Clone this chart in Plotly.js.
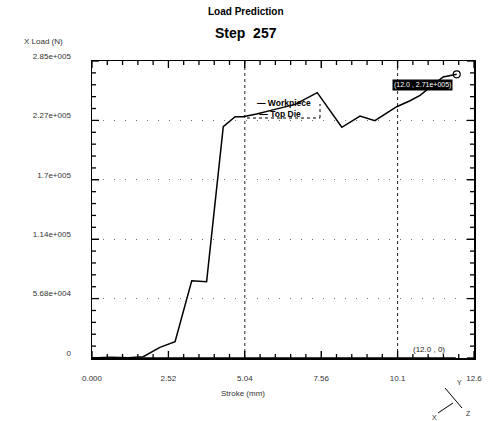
<!DOCTYPE html>
<html>
<head>
<meta charset="utf-8">
<script src="https://cdn.plot.ly/plotly-3.0.1.min.js"></script>
<style>html,body{margin:0;padding:0;background:#fff;}#chart{width:489px;height:421px;}</style>
</head>
<body>
<div id="chart"></div>
<script>
// Workpiece X load vs stroke
const stroke = [0, 0.6, 1.2, 1.69, 2.24, 2.74, 3.29, 3.78, 4.33, 4.61, 4.72, 4.98, 5.43, 6.0, 6.7, 7.43, 8.24, 8.84, 9.33, 10.05, 10.49, 10.82, 11.58, 12.03];
const load   = [0, 600, 300, 1200, 10200, 15600, 73900, 73000, 221200, 227600, 230700, 230700, 233300, 237500, 242500, 253700, 220600, 231400, 226900, 240300, 246000, 251200, 268700, 271300];
// Top die series (zero load)
const dieStroke = [0, 12.0];
const dieLoad   = [0, 0];

const xTickVals = [0, 2.52, 5.04, 7.56, 10.08, 12.6];
const xTickText = ["0.000", "2.52", "5.04", "7.56", "10.1", "12.6"];
const yTickVals = [0, 56800, 113600, 170400, 227200, 284000];
const yTickText = ["0", "5.68e+004", "1.14e+005", "1.7e+005", "2.27e+005", "2.85e+005"];
const xGridVals = [5.04, 10.08];

const endLabel = "(12.0 , 2.71e+005)";
const dieLabel = "(12.0 , 0)";

const last = stroke.length - 1;
const FONT = "Liberation Sans, Arial, sans-serif";
const MINOR_PER_MAJOR = 5;

const traces = [
  {x: dieStroke, y: dieLoad, mode: 'lines', line: {color: '#000', width: 1.5}, name: 'Top Die', showlegend: false, hoverinfo: 'skip'},
  {x: stroke, y: load, mode: 'lines', line: {color: '#000', width: 1.5}, name: 'Workpiece', showlegend: false},
  {x: [stroke[last]], y: [load[last]], mode: 'markers', marker: {symbol: 'circle-open', size: 7, color: '#000', line: {width: 1.2}}, showlegend: false}
];

const shapes = [
  {type: 'line', xref: 'paper', yref: 'paper', x0: (247-92)/382, x1: (320-92)/382, y0: (358-118)/297, y1: (358-118)/297, line: {color: '#000', width: 1, dash: 'dot'}},
  {type: 'line', xref: 'paper', yref: 'paper', x0: (320-92)/382, x1: (320-92)/382, y0: (358-118)/297, y1: (358-104)/297, line: {color: '#000', width: 1, dash: 'dot'}},
  {type: 'line', xref: 'paper', yref: 'paper', x0: (445-92)/382, y0: (358-388)/297, x1: (462-92)/382, y1: (358-408)/297, line: {color: '#000', width: 1}},
  {type: 'line', xref: 'paper', yref: 'paper', x0: (438-92)/382, y0: (358-413)/297, x1: (453-92)/382, y1: (358-403)/297, line: {color: '#000', width: 1}}
];
xGridVals.forEach(v => shapes.push({type: 'line', xref: 'x', yref: 'paper', x0: v, x1: v, y0: 0, y1: 1, layer: 'below', line: {color: '#222', width: 1, dash: 'dot'}}));

// inside tick marks on all four sides (major + minor), placed at the axis tick values
function tickSet(vals) {
  const out = [];
  for (let i = 0; i < vals.length; i++) {
    out.push({v: vals[i], major: true});
    if (i < vals.length - 1) {
      const step = (vals[i+1] - vals[i]) / MINOR_PER_MAJOR;
      for (let k = 1; k < MINOR_PER_MAJOR; k++) out.push({v: vals[i] + k * step, major: false});
    }
  }
  return out;
}
const XP = 1 / 382, YP = 1 / 297; // one pixel in paper units
tickSet(xTickVals).forEach(t => {
  const len = (t.major ? 7 : 4) * YP;
  shapes.push({type: 'line', xref: 'x', yref: 'paper', x0: t.v, x1: t.v, y0: 0, y1: len, line: {color: '#000', width: 1.3}});
  shapes.push({type: 'line', xref: 'x', yref: 'paper', x0: t.v, x1: t.v, y0: 1, y1: 1 - len, line: {color: '#000', width: 1.3}});
});
tickSet(yTickVals).forEach(t => {
  const len = (t.major ? 7 : 4) * XP;
  shapes.push({type: 'line', xref: 'paper', yref: 'y', y0: t.v, y1: t.v, x0: 0, x1: len, line: {color: '#000', width: 1.3}});
  shapes.push({type: 'line', xref: 'paper', yref: 'y', y0: t.v, y1: t.v, x0: 1, x1: 1 - len, line: {color: '#000', width: 1.3}});
});

const annotations = [
  {text: '<b>Load Prediction</b>', xref: 'paper', yref: 'paper', x: (246-92)/382, y: (358-12)/297, showarrow: false, font: {family: FONT, size: 10, color: '#000'}, xanchor: 'center', yanchor: 'middle'},
  {text: '<b>Step  257</b>', xref: 'paper', yref: 'paper', x: (246-92)/382, y: (358-33)/297, showarrow: false, font: {family: FONT, size: 14, color: '#000'}, xanchor: 'center', yanchor: 'middle'},
  {text: 'X Load (N)', xref: 'paper', yref: 'paper', x: (22-92)/382, y: (358-42)/297, showarrow: false, font: {family: FONT, size: 8, color: '#333'}, xanchor: 'left', yanchor: 'middle'},
  {text: 'Stroke (mm)', xref: 'paper', yref: 'paper', x: (243-92)/382, y: (358-393)/297, showarrow: false, font: {family: FONT, size: 8, color: '#333'}, xanchor: 'center', yanchor: 'middle'},
  {text: '<b>\u2014 Workpiece</b><br><b>\u00a0\u2014 Top Die</b>', align: 'left', xref: 'paper', yref: 'paper', x: (256-92)/382, y: (358-108.5)/297, showarrow: false, borderpad: 0, font: {family: FONT, size: 8.5, color: '#000'}, xanchor: 'left', yanchor: 'middle'},
  {text: endLabel, x: stroke[last], y: load[last], xref: 'x', yref: 'y', showarrow: false, xanchor: 'right', yanchor: 'top', xshift: -4, yshift: -5, bgcolor: '#000', borderpad: 1, font: {family: FONT, size: 7, color: '#fff'}},
  {text: dieLabel, x: dieStroke[1], y: dieLoad[1], xref: 'x', yref: 'y', showarrow: false, xanchor: 'right', yanchor: 'bottom', xshift: -9, yshift: 2, font: {family: FONT, size: 8, color: '#222'}},
  {text: 'Y', xref: 'paper', yref: 'paper', x: (459-92)/382, y: (358-382)/297, showarrow: false, xanchor: 'center', yanchor: 'middle', font: {family: FONT, size: 7, color: '#333'}},
  {text: 'X', xref: 'paper', yref: 'paper', x: (434-92)/382, y: (358-417)/297, showarrow: false, xanchor: 'center', yanchor: 'middle', font: {family: FONT, size: 7, color: '#333'}},
  {text: 'Z', xref: 'paper', yref: 'paper', x: (468-92)/382, y: (358-413)/297, showarrow: false, xanchor: 'center', yanchor: 'middle', font: {family: FONT, size: 7, color: '#333'}}
];

const layout = {
  width: 489, height: 421,
  margin: {l: 92, r: 15, t: 61, b: 63},
  paper_bgcolor: '#fff', plot_bgcolor: '#fff',
  showlegend: false,
  font: {family: FONT, size: 8, color: '#333'},
  xaxis: {
    range: [0, 12.6], tickmode: 'array', tickvals: xTickVals, ticktext: xTickText,
    ticks: 'inside', ticklen: 7, tickwidth: 1.3, tickcolor: 'black',
    showline: true, linecolor: '#000', linewidth: 1.5, mirror: 'ticks',
    showgrid: false, zeroline: false, ticklabelstandoff: 12,
    tickfont: {family: FONT, size: 8, color: '#333'}
  },
  yaxis: {
    range: [0, 284000], tickmode: 'array', tickvals: yTickVals, ticktext: yTickText,
    ticks: 'inside', ticklen: 7, tickwidth: 1.3, tickcolor: 'black',
    showline: true, linecolor: '#000', linewidth: 1.5, mirror: 'ticks',
    showgrid: true, gridcolor: '#777', gridwidth: 1, griddash: '1px,10px', zeroline: false,
    ticklabelstandoff: 18, ticklabelshift: -5,
    tickfont: {family: FONT, size: 8, color: '#333'}
  },
  shapes: shapes,
  annotations: annotations
};

Plotly.newPlot('chart', traces, layout, {displayModeBar: false, staticPlot: true});
</script>
</body>
</html>
